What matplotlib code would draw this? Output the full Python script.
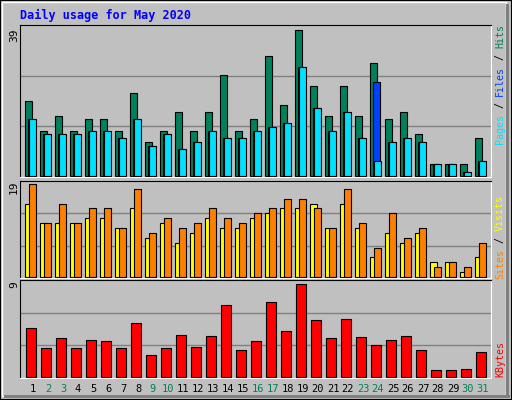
import matplotlib
matplotlib.use("Agg")
import matplotlib.pyplot as plt
from matplotlib.patches import Rectangle

days = list(range(1, 32))
hits = [20,12,16,12,15,15,12,22,9,12,17,12,17,27,12,15,32,19,39,24,16,24,16,30,15,17,11,3,3,3,10]
files = [15,11,11,11,12,12,10,15,8,11,7,9,12,10,10,12,13,14,29,18,12,17,10,25,9,10,9,3,3,1,4]
pages = [15,11,11,11,12,12,10,15,8,11,7,9,12,10,10,12,13,14,29,18,12,17,10,4,9,10,9,3,3,1,4]
sites = [15,11,11,11,12,12,10,14,8,11,7,9,12,10,10,12,13,14,14,15,10,15,10,4,9,7,9,3,3,1,4]
visits = [19,11,15,11,14,14,10,18,9,12,10,11,14,12,11,13,14,16,16,14,10,18,11,6,13,8,10,2,3,2,7]
kbytes = [4.7,2.8,3.8,2.8,3.6,3.5,2.8,5.2,2.1,2.8,4.1,2.9,4.0,7.0,2.6,3.5,7.3,4.5,9.0,5.5,3.8,5.6,3.9,3.1,3.6,4.0,2.6,0.7,0.7,0.8,2.4]
weekend = {2,3,9,10,16,17,23,24,30,31}

W, H = 512, 400
BG = "#C0C0C0"
fig = plt.figure(figsize=(W/100, H/100), dpi=100, facecolor=BG)
mono = "DejaVu Sans Mono"

fig.patches.append(Rectangle((0, 0), 1, 1, transform=fig.transFigure, fill=False, ec="black", lw=1.5))
fig.patches.append(Rectangle((2/W, 4/H), (W-8)/W, (H-6)/H, transform=fig.transFigure, fill=False, ec="white", lw=1))
fig.patches.append(Rectangle((4/W, 2/H), (W-6)/W, 3/H, transform=fig.transFigure, color="#808080", lw=0))
fig.patches.append(Rectangle(((W-6)/W, 2/H), 3/W, (H-6)/H, transform=fig.transFigure, color="#808080", lw=0))

fig.text(20/W, 1-15/H, "Daily usage for May 2020", color="#0000FF", family=mono,
         fontweight="bold", fontsize=8.5, va="center")

def panel(top, bottom):
    ax = fig.add_axes([20/W, 1-bottom/H, 471/W, (bottom-top)/H])
    ax.set_facecolor(BG)
    ax.set_xlim(-0.35, 31.05)
    ax.set_xticks([]); ax.set_yticks([])
    for s in ax.spines.values():
        s.set_color("black")
    ax.spines["right"].set_color("white"); ax.spines["bottom"].set_color("white")
    for f in (1/3, 2/3):
        ax.plot([0, 1], [f, f], transform=ax.transAxes, color="#808080", lw=1, zorder=0)
    return ax

x = list(range(31))
ax1 = panel(25, 177)
ax1.set_ylim(-0.4, 40.3)
ax1.bar(x, hits, width=0.47, align="edge", color="#00805C", ec="black", lw=0.8, zorder=2)
ax1.bar([i+0.15 for i in x], files, width=0.47, align="edge", color="#0040FF", ec="black", lw=0.8, zorder=3)
ax1.bar([i+0.27 for i in x], pages, width=0.47, align="edge", color="#00E0FF", ec="black", lw=0.8, zorder=4)

ax2 = panel(181, 278)
ax2.set_ylim(-0.2, 19.6)
ax2.bar(x, sites, width=0.47, align="edge", color="#FFFF00", ec="black", lw=0.8, zorder=2)
ax2.bar([i+0.27 for i in x], visits, width=0.47, align="edge", color="#FF8000", ec="black", lw=0.8, zorder=3)

ax3 = panel(280, 378)
ax3.set_ylim(-0.1, 9.4)
ax3.bar([i+0.07 for i in x], kbytes, width=0.67, align="edge", color="#FF0000", ec="black", lw=0.8, zorder=2)

fig.text(14/W, 1-35/H, "39", rotation=90, family=mono, fontsize=8, ha="center", va="center")
fig.text(14/W, 1-187/H, "19", rotation=90, family=mono, fontsize=8, ha="center", va="center")
fig.text(14/W, 1-285/H, "9", rotation=90, family=mono, fontsize=8, ha="center", va="center")

def rlabel(parts, ycenter):
    fs = 7.2
    ch = 0.602 * fs * 100 / 72
    total = sum(len(p) for p, _ in parts)
    y = ycenter + total*ch/2
    for p, c in parts:
        fig.text(500/W, 1-y/H, p, rotation=90, family=mono, fontsize=fs, color=c, ha="center", va="bottom")
        y -= len(p)*ch

rlabel([("Pages", "#00E0FF"), (" / ", "black"), ("Files", "#0040FF"), (" / ", "black"), ("Hits", "#00805C")], 84)
rlabel([("Sites", "#FF8000"), (" / ", "black"), ("Visits", "#FFFF00")], 237)
rlabel([("KBytes", "#FF0000")], 359)

for i, d in enumerate(days):
    xc = 20 + 13 + i*15
    fig.text(xc/W, 1-389/H, str(d), family=mono, fontsize=7.5, ha="center", va="center",
             color="#00805C" if d in weekend else "black")

fig.savefig("out.png", dpi=100, facecolor=BG)
